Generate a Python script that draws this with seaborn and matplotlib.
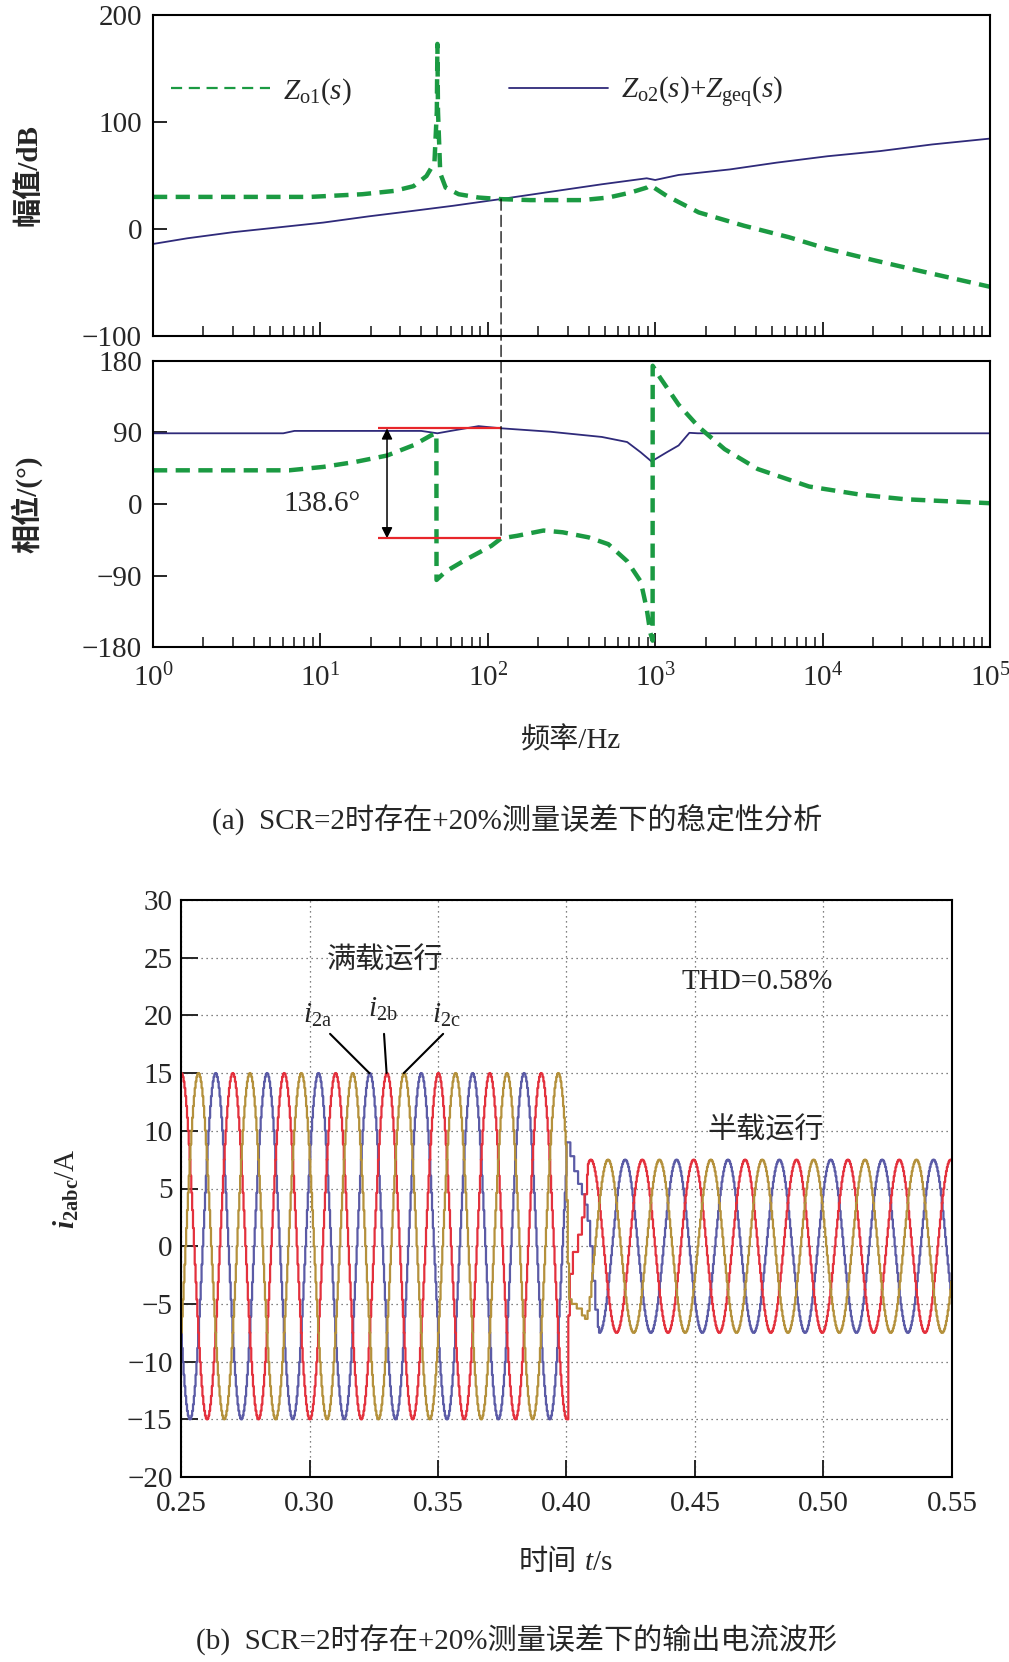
import numpy as np
import pandas as pd
import matplotlib
matplotlib.use("Agg")
import matplotlib.pyplot as plt
import seaborn as sns
from matplotlib.lines import Line2D
from matplotlib.patches import ConnectionPatch
from matplotlib.ticker import LogLocator, NullFormatter, FixedLocator

sns.set_style("white")
plt.rcParams['font.family'] = ['Liberation Serif', 'Noto Sans CJK SC']
plt.rcParams['mathtext.fontset'] = 'custom'
plt.rcParams['mathtext.rm'] = 'Liberation Serif'
plt.rcParams['mathtext.it'] = 'Liberation Serif:italic'
plt.rcParams['mathtext.bf'] = 'Liberation Serif:bold'
plt.rcParams['mathtext.bfit'] = 'Liberation Serif:italic:bold'
plt.rcParams['axes.unicode_minus'] = True

FS = 21
green = '#1b9a42'
indigo = '#2f2a7a'
red_line = '#e8262b'
wave_colors = {'a': '#5b5ba6', 'b': '#e3313d', 'c': '#b4913c'}

# ---- (a) Bode data ----
f_mag_o1 = [1, 8.7, 17.8, 27.6, 36, 43, 48, 49.6, 50, 50.4, 52, 56, 67, 88, 120, 180,
            366, 525, 710, 890, 935, 1170, 1820, 3400, 6300, 10700, 20000, 37000, 100000]
mag_o1 = [30, 30, 32.5, 35.6, 40, 49.5, 62, 110, 173, 110, 52, 38.7, 32.5, 29.4, 27.9, 27,
          27, 29.4, 34, 38.7, 40.9, 31, 15.5, 3, -7.7, -18.6, -29, -38.7, -54]

f_mag_o2 = [1, 1.6, 3, 5.6, 10.4, 19.4, 36, 62, 120, 235, 480, 890, 1000, 1380, 2800,
            5300, 10700, 22000, 45000, 100000]
mag_o2 = [-14, -8.7, -3, 1.5, 6, 11.8, 17, 21.7, 28, 34.7, 41.8, 47.4, 45.8, 50.5, 55.7,
          62, 68, 72.8, 79, 84.5]

f_ph_o1 = [1, 6.5, 10.4, 16.2, 25, 36, 46, 49.3, 49.4, 56, 74, 105, 120, 150, 215, 280,
           400, 525, 680, 820, 890, 935, 965, 966, 1070, 1380, 1820, 2600, 4100, 8300,
           17000, 31000, 49000, 100000]
ph_o1 = [42.4, 42.4, 46.7, 53, 61, 74, 86.6, 89, -95.6, -85, -70, -52.7, -43.3, -40, -33.4,
         -35.6, -42, -50.6, -72, -97.7, -132, -162, -172, 174, 159, 125, 97, 69, 44, 22,
         11.6, 6, 4, 1]

f_ph_o2 = [1, 6, 7, 40, 50, 60, 88, 120, 235, 480, 680, 820, 950, 1170, 1380, 1600, 1800,
           100000]
ph_o2 = [89, 89, 92, 92, 89, 92, 98, 95.3, 91, 84.4, 78, 65, 53.6, 65, 73.7, 89.6, 89, 89]

f_cross, mag_cross = 120, 28
ph_upper, ph_lower = 95.3, -43.3
f_bar_start, f_arrow = 22, 25

# ---- (b) waveform data ----
half_cycle_pu = [0.0, 0.105, 0.208, 0.309, 0.407, 0.5, 0.588, 0.669, 0.743, 0.809,
                 0.866, 0.914, 0.951, 0.978, 0.995, 1.0, 0.995, 0.978, 0.951, 0.914,
                 0.866, 0.809, 0.743, 0.669, 0.588, 0.5, 0.407, 0.309, 0.208, 0.105]
cycle_pu = np.array(half_cycle_pu + [-v for v in half_cycle_pu])
fs = 3000
t_start, t_step, t_end = 0.25, 0.40, 0.55
amp_full, amp_half = 15.0, 7.5
offset_full = {'a': 35, 'b': 15, 'c': 55}
offset_half = {'a': 37, 'b': 17, 'c': 57}
trans_t = {
    'a': [0.4000, 0.4015, 0.4030, 0.4045, 0.4060, 0.4072, 0.4082, 0.4092, 0.4102, 0.4112, 0.4122],
    'b': [0.4000, 0.4007, 0.4013, 0.4025, 0.4045, 0.4060, 0.4070, 0.4080],
    'c': [0.4000, 0.4005, 0.4010, 0.4020, 0.4040, 0.4060, 0.4072, 0.4082, 0.4090],
}
trans_v = {
    'a': [9.0, 7.8, 6.5, 5.4, 4.5, 3.6, 2.2, 0.0, -3.0, -5.5, -7.0],
    'b': [-15.0, -6.0, -2.4, -0.5, 1.0, 2.5, 4.5, 6.2],
    'c': [4.0, -1.5, -4.6, -5.0, -5.4, -6.0, -6.3, -5.6, -4.4],
}
i_join = {'a': 488, 'b': 475, 'c': 479}

n_full = int(round((t_step - t_start) * fs))
n_total = int(round((t_end - t_start) * fs))
frames = []
for ph in ['a', 'b', 'c']:
    i_f = np.arange(0, n_full)
    i_h = np.arange(i_join[ph], n_total + 1)
    t = np.concatenate([t_start + i_f / fs, trans_t[ph], t_start + i_h / fs])
    v = np.concatenate([amp_full * cycle_pu[(i_f + offset_full[ph]) % 60], trans_v[ph],
                        amp_half * cycle_pu[(i_h + offset_half[ph]) % 60]])
    frames.append(pd.DataFrame({'t': t, 'i': v, 'phase': ph}))
df_wave = pd.concat(frames, ignore_index=True)

# ---- figure ----
W, H = 1009, 1662
fig = plt.figure(figsize=(W / 100, H / 100), dpi=100)


def box(l, t, r, b):
    return [l / W, 1 - b / H, (r - l) / W, (b - t) / H]


ax1 = fig.add_axes(box(153, 15, 990, 336))
ax2 = fig.add_axes(box(153, 361, 990, 647))
ax3 = fig.add_axes(box(181, 900, 952, 1477))

dash = (3.2, 1.9)
sns.lineplot(x=f_mag_o2, y=mag_o2, ax=ax1, color=indigo, linewidth=1.3, sort=False, estimator=None)
sns.lineplot(x=f_mag_o1, y=mag_o1, ax=ax1, color=green, linewidth=3.2, sort=False, estimator=None)
ax1.lines[-1].set_dashes(dash)
sns.lineplot(x=f_ph_o2, y=ph_o2, ax=ax2, color=indigo, linewidth=1.3, sort=False, estimator=None)
sns.lineplot(x=f_ph_o1, y=ph_o1, ax=ax2, color=green, linewidth=3.2, sort=False, estimator=None)
ax2.lines[-1].set_dashes(dash)

for ax in (ax1, ax2):
    ax.set_xscale('log')
    ax.set_xlim(1, 1e5)
    ax.xaxis.set_major_locator(LogLocator(base=10, numticks=10))
    ax.xaxis.set_minor_locator(LogLocator(base=10, subs=np.arange(2, 10), numticks=20))
    ax.xaxis.set_minor_formatter(NullFormatter())
    ax.tick_params(axis='both', which='major', direction='in', length=10, width=1.4,
                   labelsize=FS, bottom=True, left=True, top=False, right=False)
    ax.tick_params(axis='x', which='minor', direction='in', length=7, width=1.2,
                   bottom=True, top=False)
    ax.tick_params(axis='y', pad=8)
    ax.tick_params(axis='x', pad=12)
    for s in ax.spines.values():
        s.set_linewidth(1.5)
        s.set_color('black')
    ax.set_xlabel('')

ax1.set_ylim(-100, 200)
ax1.set_yticks([-100, 0, 100, 200])
ax1.tick_params(labelbottom=False)
ax2.set_ylim(-180, 180)
ax2.set_yticks([-180, -90, 0, 90, 180])

ax1.set_ylabel('幅值/dB', fontsize=FS, fontweight='bold')
ax2.set_ylabel('相位/(°)', fontsize=FS, fontweight='bold')
ax1.yaxis.set_label_coords(-0.132, 0.5)
ax2.yaxis.set_label_coords(-0.132, 0.5)
ax2.set_xlabel('频率/Hz', fontsize=FS)
ax2.xaxis.set_label_coords(0.5, -0.28)

handles = [Line2D([], [], color=green, lw=1.6, ls=(0, (5, 3))),
           Line2D([], [], color=indigo, lw=1.3)]
labels = [r'$Z_{\mathrm{o1}}(s)$', r'$Z_{\mathrm{o2}}(s)$+$Z_{\mathrm{geq}}(s)$']
ax1.legend(handles, labels, loc='center left', bbox_to_anchor=(0.0, 0.76), ncol=2,
           frameon=False, fontsize=FS, handlelength=3.4, handletextpad=0.45,
           columnspacing=5.4, borderaxespad=0.2)

# crossover marker and phase-margin annotation
con = ConnectionPatch(xyA=(f_cross, mag_cross), coordsA=ax1.transData,
                      xyB=(f_cross, ph_lower), coordsB=ax2.transData,
                      color='black', lw=0.9, linestyle=(0, (9, 4)))
fig.add_artist(con)
ax2.hlines([ph_upper, ph_lower], f_bar_start, f_cross, colors=red_line, lw=1.6, zorder=4)
ax2.annotate('', xy=(f_arrow, ph_lower), xytext=(f_arrow, ph_upper),
             arrowprops=dict(arrowstyle='<|-|>', color='black', lw=1.1,
                             mutation_scale=16, shrinkA=0, shrinkB=0))
ax2.text(10.2, 0, '138.6°', fontsize=FS, ha='center', va='center')

fig.text(517 / W, 1 - 820 / H, '(a)  SCR=2时存在+20%测量误差下的稳定性分析',
         fontsize=FS, ha='center', va='center')

# ---- (b) waveform ----
ax3.grid(True, linestyle=(0, (1, 3)), color='0.35', linewidth=0.9)
ax3.set_axisbelow(True)
sns.lineplot(data=df_wave, x='t', y='i', hue='phase', palette=wave_colors, ax=ax3,
             drawstyle='steps-post', estimator=None, sort=False, legend=False, linewidth=1.6)
ax3.set_xlim(t_start, t_end)
ax3.set_ylim(-20, 30)
xt = np.round(np.arange(0.25, 0.551, 0.05), 2)
ax3.xaxis.set_major_locator(FixedLocator(xt))
ax3.set_xticklabels([f'{v:.2f}' for v in xt])
ax3.set_yticks(np.arange(-20, 31, 5))
ax3.tick_params(axis='both', direction='in', length=12, width=1.4, labelsize=FS,
                bottom=True, left=True, top=False, right=False)
ax3.tick_params(axis='y', pad=6)
ax3.tick_params(axis='x', pad=10)
for s in ax3.spines.values():
    s.set_linewidth(1.5)
    s.set_color('black')
ax3.set_ylabel(r'$\mathbfit{i}_{\mathbf{2abc}}$/A', fontsize=FS)
ax3.yaxis.set_label_coords(-0.13, 0.5)
ax3.set_xlabel('')
ax3.text(0.514, -0.149, '时间', fontsize=FS, ha='right', va='center', transform=ax3.transAxes)
ax3.text(0.523, -0.149, '$t$/s', fontsize=FS, ha='left', va='center', transform=ax3.transAxes)

ax3.text(0.3294, 24.7, '满载运行', fontsize=FS, ha='center', va='center')
ax3.text(0.4741, 22.9, 'THD=0.58%', fontsize=FS, ha='center', va='center')
ax3.text(0.4776, 10.0, '半载运行', fontsize=FS, ha='center', va='center')

lbl_t = [0.3030, 0.3287, 0.3531]
lbl_y = [20.0, 20.5, 20.0]
lbl_txt = [r'$i_{\mathrm{2a}}$', r'$i_{\mathrm{2b}}$', r'$i_{\mathrm{2c}}$']
line_start_t = [0.308, 0.3290, 0.352]
peak_t = [0.3233, 0.3300, 0.3367]
for lt, ly, tx, st, pt in zip(lbl_t, lbl_y, lbl_txt, line_start_t, peak_t):
    ax3.text(lt, ly, tx, fontsize=FS, ha='center', va='center')
    ax3.annotate('', xy=(pt, amp_full), xytext=(st, 18.4),
                 arrowprops=dict(arrowstyle='-', color='black', lw=1.5, shrinkA=0, shrinkB=0))

fig.text(517 / W, 1 - 1640 / H, '(b)  SCR=2时存在+20%测量误差下的输出电流波形',
         fontsize=FS, ha='center', va='center')

fig.savefig('out.png', dpi=100)
